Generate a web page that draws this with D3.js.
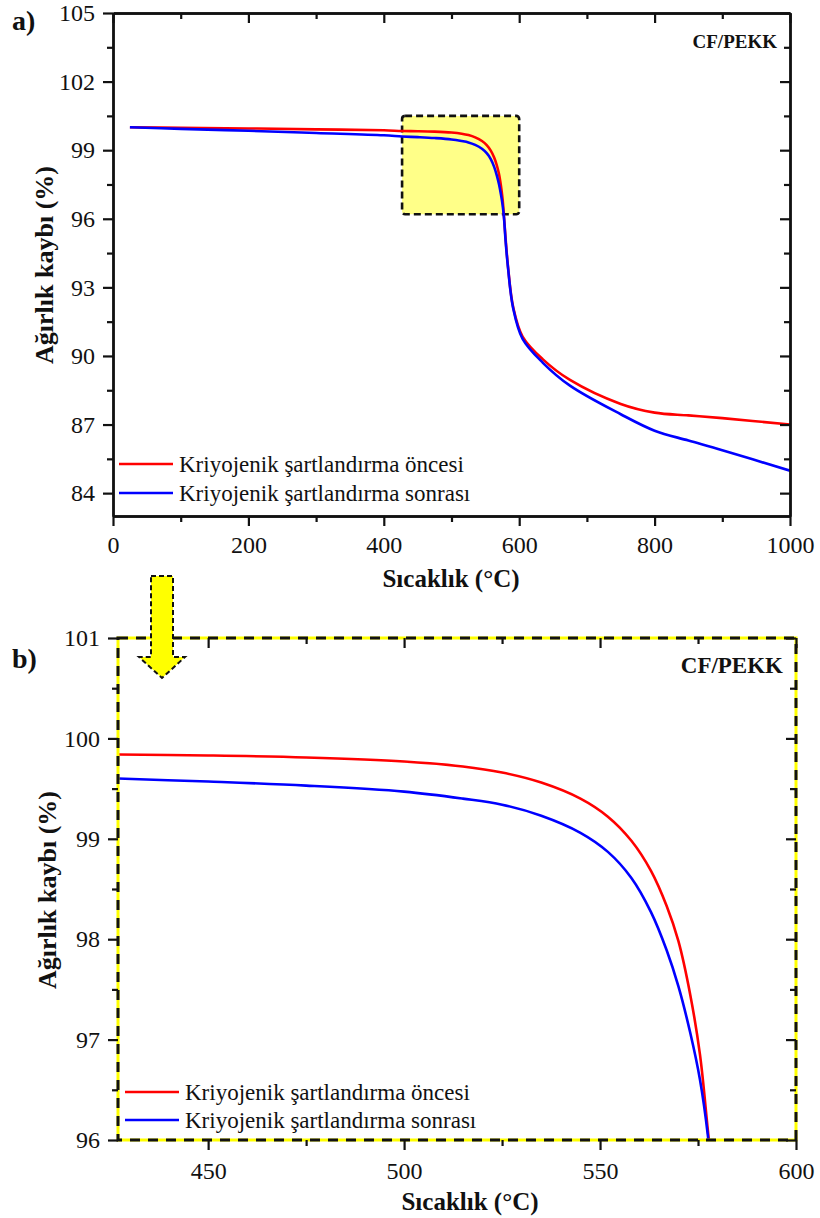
<!DOCTYPE html>
<html>
<head>
<meta charset="utf-8">
<script src="https://cdn.jsdelivr.net/npm/d3@7"></script>
<style>
  body { margin: 0; background: #fff; }
  svg, svg text { font-family: "Liberation Serif", "Times New Roman", "DejaVu Serif", serif; }
  text { fill: #111; }
</style>
</head>
<body>
<div class="fig"></div>
<script>
// sicaklik (°C) ve agirlik (%) degerleri
var sicaklik = [25, 100, 200, 300, 400, 427, 450, 475, 500, 515, 525, 535, 545, 552, 558, 563, 567, 570, 573, 575.5, 577.5, 580, 583.5, 591, 605, 635, 675, 750, 800, 850, 900, 1000];
var oncesi   = [100.0, 99.98, 99.95, 99.91, 99.87, 99.84, 99.83, 99.81, 99.77, 99.72, 99.66, 99.56, 99.40, 99.22, 98.98, 98.68, 98.33, 97.98, 97.45, 96.85, 96.1, 95.1, 93.9, 92.15, 90.85, 89.85, 88.95, 87.9, 87.52, 87.4, 87.28, 87.0];
var sonrasi  = [100.0, 99.93, 99.85, 99.75, 99.65, 99.6, 99.57, 99.53, 99.47, 99.40, 99.34, 99.23, 99.06, 98.87, 98.61, 98.27, 97.89, 97.53, 97.07, 96.6, 96.05, 95.0, 93.85, 92.1, 90.75, 89.7, 88.7, 87.45, 86.73, 86.3, 85.88, 84.98];
var seriNames = ["Kriyojenik şartlandırma öncesi", "Kriyojenik şartlandırma sonrası"];
var seriColors = ["#ff0000", "#0000ff"];

var aMajorX = [0, 200, 400, 600, 800, 1000];
var aMinorX = [100, 300, 500, 700, 900];
var aMajorY = [84, 87, 90, 93, 96, 99, 102, 105];
var aMinorY = [85.5, 88.5, 91.5, 94.5, 97.5, 100.5, 103.5];
var bMajorX = [450, 500, 550, 600];
var bMinorX = [475, 525, 575];
var bMajorY = [96, 97, 98, 99, 100, 101];
var bMinorY = [96.5, 97.5, 98.5, 99.5, 100.5];
var zoomBox = [427, 600, 96.2, 100.5]; // x0, x1, y0, y1

var svg = d3.select(".fig").append("svg")
  .attr("width", 820)
  .attr("height", 1218)
  .attr("font-family", "Liberation Serif, Times New Roman, serif");

var series = [oncesi, sonrasi].map(function(vals, k) {
  return {name: seriNames[k], color: seriColors[k],
    pts: vals.map(function(v, i) { return [sicaklik[i], v]; })};
});

function panel(o) {
  var x = d3.scaleLinear().domain(o.xd).range(o.xr);
  var y = d3.scaleLinear().domain(o.yd).range(o.yr);
  var g = svg.append("g");

  if (o.before) o.before(g, x, y);

  g.append("clipPath").attr("id", o.id)
    .append("rect").attr("x", o.xr[0]).attr("y", o.yr[1])
    .attr("width", o.xr[1] - o.xr[0]).attr("height", o.yr[0] - o.yr[1]);

  var line = d3.line()
    .x(function(d) { return x(d[0]); })
    .y(function(d) { return y(d[1]); })
    .curve(d3.curveCatmullRom.alpha(0.5));

  g.append("g").attr("clip-path", "url(#" + o.id + ")")
    .selectAll("path").data(series).enter().append("path")
    .attr("d", function(d) { return line(d.pts); })
    .attr("fill", "none")
    .attr("stroke", function(d) { return d.color; })
    .attr("stroke-width", 2.6);

  // frame
  if (o.dashed) {
    g.append("rect").attr("x", o.xr[0]).attr("y", o.yr[1])
      .attr("width", o.xr[1] - o.xr[0]).attr("height", o.yr[0] - o.yr[1])
      .attr("fill", "none").attr("stroke", "#ffff00").attr("stroke-width", 3);
    g.append("rect").attr("x", o.xr[0]).attr("y", o.yr[1])
      .attr("width", o.xr[1] - o.xr[0]).attr("height", o.yr[0] - o.yr[1])
      .attr("fill", "none").attr("stroke", "#111").attr("stroke-width", 3)
      .style("stroke-dasharray", "10,8");
  }

  function ax(gen, pos, vals, size, fmt, pad) {
    var a = gen.tickValues(vals).tickSizeInner(size).tickSizeOuter(0).tickPadding(pad || 8);
    a.tickFormat(fmt ? d3.format("d") : "");
    var sel = g.append("g").attr("transform", pos).call(a)
      .attr("font-family", null).attr("font-size", null);
    sel.select(".domain").attr("stroke", o.dashed ? "none" : "#111").attr("stroke-width", 2.4);
    sel.selectAll(".tick line").attr("stroke", "#111").attr("stroke-width", 2.2);
    sel.selectAll("text").style("font-size", "24px").attr("fill", "#111");
    return sel;
  }
  var bottom = "translate(0," + o.yr[0] + ")", top = "translate(0," + o.yr[1] + ")";
  var left = "translate(" + o.xr[0] + ",0)", right = "translate(" + o.xr[1] + ",0)";
  ax(d3.axisBottom(x), bottom, o.mx, 10, true, o.xpad);
  ax(d3.axisBottom(x), bottom, o.nx, 6, false);
  ax(d3.axisTop(x), top, o.mx, -10, false);
  ax(d3.axisTop(x), top, o.nx, -6, false);
  ax(d3.axisLeft(y), left, o.my, 10, true);
  ax(d3.axisLeft(y), left, o.ny, 6, false);
  ax(d3.axisRight(y), right, o.my, -10, false);
  ax(d3.axisRight(y), right, o.ny, -6, false);

  // labels
  g.append("text").attr("x", o.xt[0]).attr("y", o.xt[1])
    .attr("text-anchor", "middle").style("font-size", "25px").style("font-weight", "bold")
    .text("Sıcaklık (°C)");
  g.append("text").attr("transform", "translate(" + o.yt[0] + "," + o.yt[1] + ") rotate(-90)")
    .attr("text-anchor", "middle").style("font-size", "26px").style("font-weight", "bold")
    .text("Ağırlık kaybı (%)");
  g.append("text").attr("x", o.cf[0]).attr("y", o.cf[1])
    .attr("text-anchor", "end").style("font-size", o.cf[2] + "px").style("font-weight", "bold")
    .text("CF/PEKK");
  g.append("text").attr("x", 12).attr("y", o.tag[1])
    .style("font-size", "28px").style("font-weight", "bold").text(o.tag[0]);

  // legend
  var lg = g.selectAll(".lg").data(series).enter().append("g")
    .attr("transform", function(d, i) { return "translate(" + o.lg[0] + "," + (o.lg[1] + i * o.lg[2]) + ")"; });
  lg.append("line").attr("x1", 0).attr("x2", 54)
    .attr("stroke", function(d) { return d.color; }).attr("stroke-width", 2.6);
  lg.append("text").attr("x", 60).attr("y", 8).style("font-size", "23px")
    .text(function(d) { return d.name; });
}

panel({
  id: "clipA", xd: [0, 1000], xr: [113, 790], yd: [83, 105], yr: [516, 13],
  mx: aMajorX, nx: aMinorX, my: aMajorY, ny: aMinorY, xpad: 10,
  xt: [451, 587], yt: [53, 265], cf: [777, 48, 19], tag: ["a)", 30],
  lg: [119, 464, 29],
  before: function(g, x, y) {
    g.append("rect")
      .attr("x", x(zoomBox[0])).attr("y", y(zoomBox[3]))
      .attr("width", x(zoomBox[1]) - x(zoomBox[0]))
      .attr("height", y(zoomBox[2]) - y(zoomBox[3]))
      .attr("rx", 3)
      .attr("fill", "#ffff88").attr("stroke", "#111").attr("stroke-width", 2.6)
      .style("stroke-dasharray", "7,4");
  }
});

panel({
  id: "clipB", xd: [427, 600], xr: [118, 796], yd: [96, 101], yr: [1140, 638], dashed: true,
  mx: bMajorX, nx: bMinorX, my: bMajorY, ny: bMinorY, xpad: 12,
  xt: [470, 1210], yt: [56, 890], cf: [783, 673, 23], tag: ["b)", 668],
  lg: [125, 1092, 28]
});

// arrow from box to zoomed panel
var arrow = [[151, 576], [173, 576], [173, 657], [185, 657], [162, 678], [139, 657], [151, 657]];
svg.append("path")
  .attr("d", d3.line()(arrow) + "Z")
  .attr("fill", "#ffff00").attr("stroke", "#111").attr("stroke-width", 2)
  .style("stroke-dasharray", "5,3");
</script>
</body>
</html>
